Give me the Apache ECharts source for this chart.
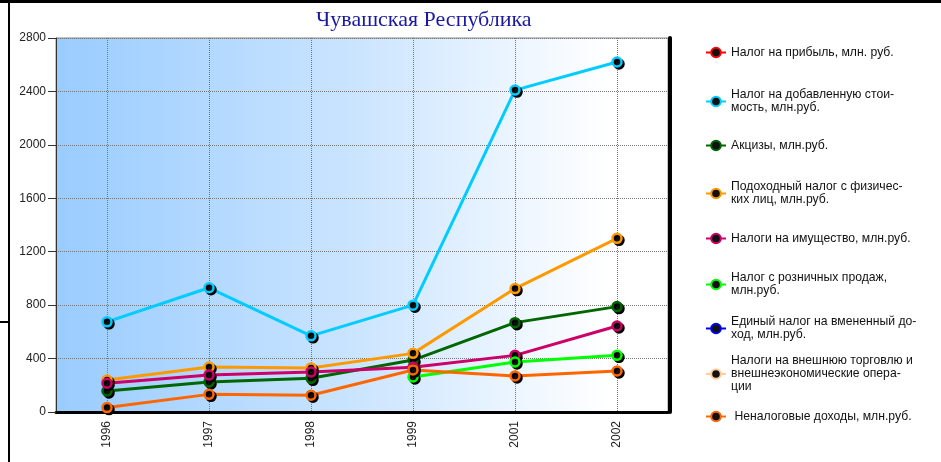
<!DOCTYPE html>
<html>
<head>
<meta charset="utf-8">
<script src="https://cdn.jsdelivr.net/npm/echarts@6/dist/echarts.min.js"></script>
<style>
  html, body { margin: 0; padding: 0; background: #fff; }
  #main { width: 941px; height: 462px; }
</style>
</head>
<body>
<div id="main"></div>
<script>
// годы
const years = ['1996', '1997', '1998', '1999', '2001', '2002'];

// ряды, млн. руб.
const nalogPribyl = [null, null, null, null, null, null];
const nds = [675, 930, 570, 800, 2410, 2620];
const akcizy = [157, 225, 252, 389, 669, 789];
const podohodny = [240, 337, 330, 439, 924, 1300];
const imushestvo = [215, 277, 300, 335, 424, 644];
const roznica = [null, null, null, 262, 374, 424];
const vmenenny = [null, null, null, null, null, null];
const vneshTorg = [null, null, null, null, null, null];
const nenalog = [33, 132, 125, 315, 270, 307];

const names = [
    'Налог на прибыль, млн. руб.',
    'Налог на добавленную стоимость, млн.руб.',
    'Акцизы, млн.руб.',
    'Подоходный налог с физических лиц, млн.руб.',
    'Налоги на имущество, млн.руб.',
    'Налог с розничных продаж, млн.руб.',
    'Единый налог на вмененный доход, млн.руб.',
    'Налоги на внешнюю торговлю и внешнеэкономические операции',
    'Неналоговые доходы, млн.руб.'
];
// как в легенде, с переносами
const legendText = [
    'Налог на прибыль, млн. руб.',
    'Налог на добавленную стои-\nмость, млн.руб.',
    'Акцизы, млн.руб.',
    'Подоходный налог с физичес-\nких лиц, млн.руб.',
    'Налоги на имущество, млн.руб.',
    'Налог с розничных продаж,\nмлн.руб.',
    'Единый налог на вмененный до-\nход, млн.руб.',
    'Налоги на внешнюю торговлю и\nвнешнеэкономические опера-\nции',
    ' Неналоговые доходы, млн.руб.'
];
const legendCenters = [48, 96.5, 141, 188.5, 234, 279.5, 323.5, 369, 412];

const seriesData = [nalogPribyl, nds, akcizy, podohodny, imushestvo, roznica, vmenenny, vneshTorg, nenalog];
const colors = ['#ff0000', '#00ccff', '#006600', '#ff9900', '#cc0066', '#00ff00', '#0000ff', '#ffcc99', '#ff6600'];

const chart = echarts.init(document.getElementById('main'));

const series = seriesData.map((data, i) => ({
    name: names[i],
    type: 'line',
    data,
    color: colors[i],
    symbol: 'circle',
    symbolSize: 9,
    lineStyle: { width: 3, color: colors[i] },
    itemStyle: {
        color: '#111',
        borderColor: colors[i],
        borderWidth: 2.5,
        shadowColor: '#000',
        shadowBlur: 0,
        shadowOffsetX: 2,
        shadowOffsetY: 2
    },
    emphasis: { disabled: true },
    animation: false
}));

// отдельная легенда на каждый ряд, чтобы выдержать шаг
const legends = names.map((name, i) => {
    const lines = legendText[i].split('\n').length;
    const h = Math.max(14, lines * 13);
    return {
        data: [name],
        orient: 'vertical',
        left: 700,
        top: legendCenters[i] - h / 2,
        itemWidth: 20,
        itemHeight: 12,
        formatter: () => legendText[i],
        textStyle: { fontFamily: 'Liberation Sans, Arial', fontSize: 12.2, lineHeight: 13, color: '#111' },
        selectedMode: false
    };
});

const option = {
    backgroundColor: '#fff',
    title: {
        text: 'Чувашская Республика',
        left: 311,
        top: 4,
        textStyle: { fontFamily: 'Liberation Serif', fontSize: 22, fontWeight: 'normal', color: '#1a1aa0' }
    },
    legend: legends,
    grid: {
        left: 56, top: 38, width: 612, height: 374,
        show: true,
        borderColor: '#888',
        borderWidth: 1,
        backgroundColor: {
            type: 'linear', x: 0, y: 0, x2: 1, y2: 0,
            colorStops: [
                { offset: 0, color: '#99ccff' },
                { offset: 0.5, color: '#cce5ff' },
                { offset: 0.9, color: '#ffffff' }
            ]
        }
    },
    xAxis: {
        type: 'category',
        data: years,
        axisLine: { lineStyle: { color: '#000', width: 3 } },
        axisTick: { alignWithLabel: true, length: 5, lineStyle: { color: '#555' } },
        axisLabel: { rotate: 90, fontFamily: 'Liberation Sans, Arial', fontSize: 12, color: '#222', margin: 9 },
        splitLine: { show: true, alignWithLabel: true, lineStyle: { color: '#777', type: 'dotted' } }
    },
    yAxis: [{
        type: 'value',
        min: 0, max: 2800, interval: 400,
        axisLine: { show: true, lineStyle: { color: '#333', width: 1 } },
        axisTick: { show: true, length: 8, lineStyle: { color: '#333' } },
        axisLabel: { fontFamily: 'Liberation Sans, Arial', fontSize: 12, color: '#222', margin: 10, formatter: v => String(v) },
        splitLine: { lineStyle: { color: '#777', type: 'dotted' } }
    }, {
        type: 'value',
        position: 'right',
        offset: 2,
        min: 0, max: 2800, interval: 400,
        axisLine: { show: true, lineStyle: { color: '#000', width: 4 } },
        axisTick: { show: false },
        axisLabel: { show: false },
        splitLine: { show: false }
    }],
    graphic: [
        { type: 'rect', shape: { x: 0, y: 0, width: 941, height: 3 }, style: { fill: '#000' } },
        { type: 'rect', shape: { x: 8, y: 0, width: 2, height: 462 }, style: { fill: '#000' } },
        { type: 'rect', shape: { x: 0, y: 321, width: 8, height: 2 }, style: { fill: '#000' } }
    ],
    series
};

chart.setOption(option);
</script>
</body>
</html>
